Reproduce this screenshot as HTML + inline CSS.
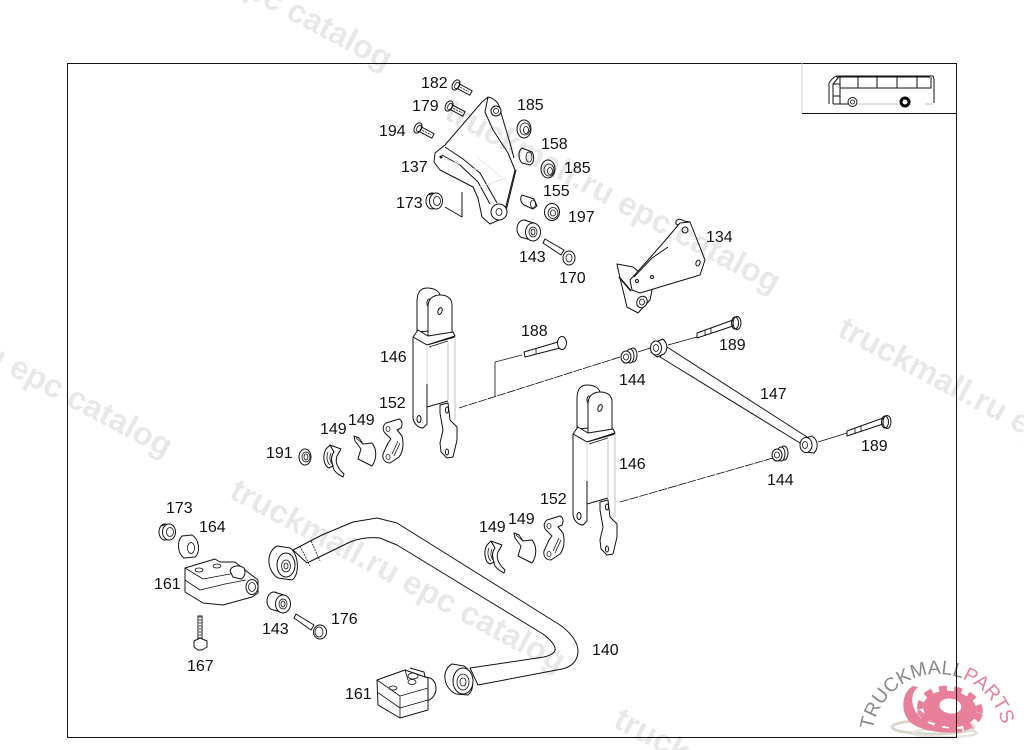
<!DOCTYPE html>
<html>
<head>
<meta charset="utf-8">
<style>
html,body{margin:0;padding:0;background:#fff;width:1024px;height:750px;overflow:hidden;}
svg{display:block;overflow:hidden;}
.l{font-family:"Liberation Sans",sans-serif;font-size:16px;fill:#111;}
.w{font-family:"Liberation Sans",sans-serif;font-size:32.5px;font-weight:bold;fill:#000;fill-opacity:.09;}
.p path,.p ellipse,.p circle,.p line,.p polyline,.p rect{stroke:#111;stroke-width:1;fill:#fff;stroke-linejoin:round;}
.p .n{fill:none;}
.p .g{stroke:#ccc;stroke-width:1.2;fill:none;}
.p .t{stroke-width:.8;fill:none;}
</style>
</head>
<body>
<svg width="1024" height="750" viewBox="0 0 1024 750" xmlns="http://www.w3.org/2000/svg">
<defs>
<clipPath id="page"><rect width="1024" height="750"/></clipPath>
<g class="p">
<g id="lever">
  <path d="M417 332V302C417 292 421 288 427 288C434 288 439 291 440 295L440 330Z"/>
  <ellipse cx="429" cy="303" rx="2" ry="4" class="n"/>
  <path d="M428 338V307C428 299 433 295 440 295C448 295 452 299 452 305V333Z"/>
  <ellipse cx="440" cy="311" rx="2" ry="3.5" transform="rotate(20 440 311)"/>
  <path d="M413 337L418 330L428 336L453 332L455 336L427 345Z"/>
  <path d="M413 337V417C413 423 418 428 423 428L427 424V345Z"/>
  <ellipse cx="419" cy="419" rx="2" ry="3.5" class="n"/>
  <path d="M427 345L455 337V404L427 407Z" style="stroke:none"/>
  <path d="M427 345L455 337" class="n"/>
  <path d="M429 347L448 341" class="t"/>
  <path d="M448 343V400" class="g"/>
  <path d="M455 337V420" class="g"/>
  <path d="M427 345V384" class="g" style="stroke:#ddd"/>
  <path d="M427 384V407" class="n"/>
  <path d="M427 407L448 401"/>
  <path d="M440 405L448 403L450 420L457 427V440L453 457L447 458L441 452L440 443L443 430L440 413Z"/>
  <ellipse cx="447" cy="410" rx="1.5" ry="3"/>
  <ellipse cx="447" cy="452" rx="1.5" ry="3"/>
</g>
<g id="clip1">
  <path d="M3 5C-1 12 1 22 6 24L10 22C8 16 8 12 11 8L7 1Z"/>
  <path d="M5 8C3 13 4 18 7 21M8 9C6 13 7 17 9 20" class="t"/>
  <path d="M7 1L18 5L14 12C12 18 14 22 18 27L21 30L20 33C14 30 10 26 10 22C8 16 8 12 11 8Z"/>
</g>
<g id="clip2">
  <path d="M0 0L5 2L9 8L18 7C23 13 23 23 18 30L4 23L7 13L1 5Z"/>
  <path d="M2 2L9 8" class="t"/>
</g>
<g id="clip3">
  <path d="M4 4L17 0C20 1 21 5 19 9L15 11L20 17C22 25 21 33 17 38L8 44C3 44 0 40 1 35L6 24L9 20L3 14C0 11 1 6 4 4Z"/>
  <path d="M10 35L16 22M12 37L18 24" class="t"/>
  <ellipse cx="6" cy="10" rx="2" ry="2.5" class="t"/>
  <ellipse cx="6" cy="38" rx="2" ry="2.5" class="t"/>
</g>
<g id="nut"><ellipse cx="-3" cy="0" rx="6" ry="8"/><ellipse cx="1" cy="0" rx="6.5" ry="8"/><ellipse cx="2" cy="0" rx="3.5" ry="4.5" class="t"/><path d="M-6 -6L-2 -8" class="t"/></g>
<g id="bush143"><ellipse cx="-5" cy="-2" rx="7" ry="9"/><path d="M-5 -11L5 -8V10L-5 7Z" style="stroke:none"/><path d="M-5 -11L5 -8M-5 7L5 10" class="n"/><ellipse cx="4" cy="1" rx="7.5" ry="9"/><ellipse cx="4" cy="1" rx="4" ry="5" class="t"/><ellipse cx="4" cy="1" rx="2" ry="3" class="t"/></g>
<g id="washer144"><ellipse cx="5" cy="-2" rx="4" ry="7"/><ellipse cx="2" cy="-1" rx="4" ry="7"/><ellipse cx="-2" cy="0" rx="5" ry="6"/><ellipse cx="-2" cy="0" rx="2.5" ry="3" class="t"/></g>
<g id="bolt"><rect x="2" y="-2.5" width="15" height="5"/><path d="M5 0H15" class="t" stroke-dasharray="2 1"/><ellipse cx="0" cy="0" rx="3.5" ry="5.5"/><ellipse cx="1" cy="0" rx="2" ry="3.5" class="t"/></g>
</g>
<g id="w"><text class="w" x="0" y="0">truckmall.ru epc catalog</text></g>
</defs>

<rect width="1024" height="750" fill="#fff"/>

<g clip-path="url(#page)">
<!-- Logo -->
<g>
  <ellipse cx="933" cy="727" rx="41" ry="7" fill="none" stroke="#d8d8d0" stroke-width="3"/>
  <ellipse cx="945" cy="733" rx="32" ry="4" fill="none" stroke="#e4e4dc" stroke-width="2.5"/>
  <path d="M913 686C902 692 900 710 909 721C919 731 942 734 962 732L962 729C944 730 925 725 917 714C911 705 910 694 918 687Z" fill="#e8809b"/>
  <path d="M917 714C926 724 945 726 962 725L962 722C945 723 929 719 918 708Z" fill="#ea8aa3"/>
  <path fill-rule="evenodd" fill="#e8809b" d="M923 709a27 18 0 1 0 54 0a27 18 0 1 0 -54 0ZM939 706a11 7.5 0 1 1 22 0a11 7.5 0 1 1 -22 0Z" transform="rotate(8 950 709)"/>
  <ellipse cx="950" cy="709" rx="30" ry="20" fill="none" stroke="#e8809b" stroke-width="6" stroke-dasharray="8 7" transform="rotate(8 950 709)"/>
</g>
<path id="arc" d="M872 740A66 66 0 0 1 1004 740L1020 745" fill="none"/>
<text font-family="Liberation Sans,sans-serif" font-size="19.5" fill="#8a8a8a"><textPath href="#arc" startOffset="10">TRUCKMALL<tspan fill="#ea7f9a">PARTS</tspan></textPath></text>

<!-- Frame -->
<rect x="67.5" y="63.5" width="889" height="674" fill="none" stroke="#111" stroke-width="1"/>
<path d="M802 63V113" stroke="#ccc" stroke-width="1" fill="none"/>
<path d="M802 113.5H956" stroke="#111" stroke-width="1" fill="none"/>

<!-- Bus -->
<g class="p">
  <path d="M837 76H933L934 79V103M838 77H930" class="n"/>
  <path d="M840 77V88H931V77M858 77V88M877 77V88M897 77V88M917 77V88" class="n"/>
  <path d="M829 104V83L832 79L836 76L838 78L833 84V104M833 104H848M833 84H840V104M833 96H840" class="n"/>
  <path d="M858 104H898M925 104H933" class="g"/>
  <circle cx="852.5" cy="102" r="4.5"/>
  <circle cx="852.5" cy="102" r="2" class="t"/>
  <circle cx="905" cy="102" r="4" style="fill:#fff;stroke:#000;stroke-width:3"/>
</g>

<!-- Connector lines -->
<g fill="none" stroke="#111" stroke-width=".8">
  <path d="M459 408L620 357" stroke-dasharray="9 1"/>
  <path d="M495 397V362L522 355"/>
  <path d="M620 502L773 458" stroke-dasharray="9 1"/>
  <path d="M638 352L650 348M668 345L697 337"/>
  <path d="M818 442L847 433"/>
</g>

<g class="p">
  <!-- 137 bracket -->
  <path d="M488 97L482 102L445 145L435 153L434 162L440 170L473 187L478 198L482 217L490 224L503 218L515 170L508 153L493 130L485 112Z"/>
  <path d="M488 97C494 98 500 103 501 113L510 143L514 158" class="n"/>
  <path d="M445 147L463 159L480 173L497 203M442 155L460 165L478 182L490 204M516 170L505 215" class="n"/>
  <path d="M477 157L502 178M444 159L478 170M480 187L506 178" class="g" style="stroke:#ddd;stroke-width:.8"/>
  <circle cx="496" cy="111" r="5"/>
  <circle cx="496" cy="111" r="2.5" class="t"/>
  <ellipse cx="499" cy="212" rx="8" ry="8"/>
  <ellipse cx="499" cy="212" rx="3" ry="3.5" class="t"/>
  <circle cx="441" cy="157" r="1" style="fill:#111"/>
  <path d="M445 207L462 217V192" class="n"/>
  <use href="#nut" x="435" y="201"/>
  <!-- bolts top -->
  <use href="#bolt" transform="translate(456,85) rotate(28)"/>
  <use href="#bolt" transform="translate(449,106) rotate(28)"/>
  <use href="#bolt" transform="translate(418,128) rotate(28)"/>
  <!-- right stack -->
  <ellipse cx="524" cy="129" rx="7" ry="9"/><ellipse cx="525" cy="129" rx="5" ry="6" class="t"/><ellipse cx="526" cy="130" rx="2.5" ry="3.5" class="t"/>
  <path d="M522 148L532 152C535 157 534 163 530 165L522 163C518 159 518 151 522 148Z"/><ellipse cx="529" cy="157" rx="3" ry="5" class="t"/>
  <ellipse cx="548" cy="169" rx="7" ry="9"/><ellipse cx="549" cy="170" rx="5" ry="6" class="t"/><ellipse cx="550" cy="171" rx="2.5" ry="3.5" class="t"/>
  <path d="M522 195L534 199L537 206L533 209L524 205C520 202 520 198 522 195Z"/><ellipse cx="533" cy="204" rx="2.5" ry="4" class="t"/>
  <ellipse cx="552" cy="212" rx="7.5" ry="8.5"/><ellipse cx="553" cy="213" rx="5" ry="5.5" class="t"/><ellipse cx="553" cy="213" rx="2.5" ry="3" class="t"/>
  <use href="#bush143" x="529" y="231"/>
  <path d="M545 239L564 250L561 255L543 243Z"/>
  <ellipse cx="569" cy="258" rx="6" ry="7"/><ellipse cx="569" cy="258" rx="3" ry="4" class="t"/>

  <!-- 134 bracket -->
  <path d="M617 264L633 267L645 277L652 290L650 300L638 313L627 307L620 278Z"/>
  <ellipse cx="642" cy="302" rx="5" ry="6" transform="rotate(30 642 302)"/>
  <ellipse cx="642" cy="302" rx="2.5" ry="3" class="t"/>
  <path d="M619 277L631 291" class="n" style="stroke-width:1.6"/>
  <path d="M676 224C675 219 680 218 684 221L690 222L680 226Z"/>
  <path d="M630 280L648 260L663 243L680 223L690 222L705 260L700 275L640 293L632 290Z"/>
  <path d="M634 277L652 258L668 247" class="n"/>
  <circle cx="685" cy="230" r="3"/>
  <ellipse cx="698" cy="263" rx="2" ry="3" transform="rotate(20 698 263)"/>
  <circle cx="637" cy="281" r="1.5"/>
  <circle cx="652" cy="277" r="1.5"/>

  <!-- Bolt 188 -->
  <path d="M524 352L558 342L560 348L525 357Z"/>
  <ellipse cx="562" cy="343" rx="4.5" ry="6.5"/>
  <path d="M536 349V354" class="t"/>

  <!-- Levers -->
  <use href="#lever"/>
  <use href="#lever" x="160" y="97"/>

  <!-- Clips left -->
  <ellipse cx="305" cy="457" rx="6" ry="8"/>
  <ellipse cx="306" cy="457" rx="4" ry="5" class="t"/>
  <ellipse cx="306" cy="457" rx="2" ry="3" class="t"/>
  <use href="#clip1" x="323" y="444"/>
  <use href="#clip2" x="354" y="436"/>
  <use href="#clip3" x="382" y="419"/>
  <!-- Clips right -->
  <use href="#clip1" x="484" y="540"/>
  <use href="#clip2" x="514" y="533"/>
  <use href="#clip3" x="543" y="516"/>

  <!-- 144 + 147 -->
  <use href="#washer144" x="628" y="357"/>
  <path d="M667 347L807 437L800 443L660 357Z"/>
  <path d="M656 342L663 339C668 344 668 350 664 354L657 357L651 352Z"/>
  <ellipse cx="656" cy="348" rx="5.5" ry="7"/>
  <ellipse cx="656" cy="348" rx="2.5" ry="3.5" class="t"/>
  <use href="#washer144" x="779" y="455"/>
  <path d="M806 438L812 436C818 440 819 448 814 453L806 452Z"/>
  <ellipse cx="806" cy="445" rx="6" ry="7.5"/>
  <ellipse cx="805" cy="445" rx="2.5" ry="3.5" class="t"/>

  <!-- Bolts 189 -->
  <path d="M697 333L733 320V326L697 338Z"/>
  <path d="M705 330V336M711 328V334" class="t"/>
  <ellipse cx="737" cy="323" rx="4" ry="6.5"/>
  <ellipse cx="735" cy="323" rx="3.5" ry="6" class="n"/>
  <path d="M847 431L883 418V424L847 436Z"/>
  <path d="M855 428V434M861 426V432" class="t"/>
  <ellipse cx="887" cy="422" rx="4" ry="6.5"/>
  <ellipse cx="885" cy="422" rx="3.5" ry="6" class="n"/>

  <!-- Stabilizer bar -->
  <path d="M293 550L322 535L353 522L377 518L397 523L560 625C570 632 578 642 578 651C578 660 572 667 562 669L478 685L470 668L544 657C552 655 556 652 555 648C554 643 548 638 543 634L397 545L380 538C370 537 360 538 350 542L307 563Z"/>
  <path d="M300 546L310 566M311 541L320 561" class="t" stroke-dasharray="2 1"/>
  <!-- left bush -->
  <path d="M277 546L290 548C299 554 300 575 292 580L278 578C266 570 266 552 277 546Z"/>
  <ellipse cx="286" cy="565" rx="9" ry="12"/>
  <ellipse cx="286" cy="566" rx="4.5" ry="6" class="t"/>
  <ellipse cx="286" cy="566" rx="2" ry="3" class="t"/>
  <!-- right bush -->
  <path d="M452 664L464 666C473 672 476 688 468 695L456 694C443 688 441 670 452 664Z"/>
  <ellipse cx="463" cy="681" rx="10" ry="13"/>
  <ellipse cx="463" cy="682" rx="6" ry="8" class="t"/>
  <ellipse cx="463" cy="682" rx="3" ry="4" class="t"/>

  <!-- 173, 164 left -->
  <use href="#nut" x="168" y="532"/>
  <path d="M182 536L192 535C199 539 201 552 195 557L184 558C177 553 177 541 182 536Z"/>
  <ellipse cx="191" cy="548" rx="3.5" ry="5.5" class="t"/>

  <!-- 161 left -->
  <path d="M185 568L215 559L220 562L235 562L245 570L258 580V593L252 597L223 605L203 603L185 592Z"/>
  <path d="M185 580L200 590L225 584L246 580M185 568L203 579L230 574L240 572" class="t"/>
  <ellipse cx="199" cy="570" rx="4" ry="2" class="t"/>
  <ellipse cx="217" cy="566" rx="4" ry="2" class="t"/>
  <path d="M230 571C231 566 238 564 244 568C246 572 245 577 241 579L233 577Z"/>
  <ellipse cx="252" cy="587" rx="6" ry="7.5"/>
  <ellipse cx="252" cy="587" rx="3.5" ry="4.5" class="t"/>
  <!-- 143 -->
  <use href="#bush143" x="279" y="603"/>
  <!-- 176 -->
  <path d="M296 614L314 625L311 630L294 618Z"/>
  <ellipse cx="320" cy="632" rx="6.5" ry="7"/>
  <ellipse cx="319" cy="632" rx="4" ry="5" class="t"/>
  <!-- 167 -->
  <path d="M198 616H202V640H198Z"/>
  <path d="M200 616V640" class="t" stroke-dasharray="2 1"/>
  <path d="M194 641L200 638L207 641L207 647L202 650H198L194 647Z"/>

  <!-- 161 right -->
  <path d="M410 668L424 672L425 677C432 677 436 682 436 688C436 695 432 699 427 701L420 705C425 695 428 685 420 677" />
  <path d="M377 680L405 670L428 678V710L400 718L378 705Z"/>
  <path d="M377 680L400 696L428 688M377 692L400 708V718M400 696V708L428 700" class="t"/>
  <ellipse cx="393" cy="688" rx="4" ry="2" class="t"/>
  <ellipse cx="412" cy="682" rx="4" ry="2.5" class="t"/>
  <ellipse cx="413" cy="676" rx="5" ry="3" class="t"/>
  <path d="M405 670L408 680" class="t"/>
</g>

<!-- Labels -->
<g class="l">
<text x="421" y="88">182</text>
<text x="412" y="111">179</text>
<text x="379" y="136">194</text>
<text x="401" y="172">137</text>
<text x="396" y="208">173</text>
<text x="517" y="110">185</text>
<text x="541" y="149">158</text>
<text x="564" y="173">185</text>
<text x="543" y="196">155</text>
<text x="568" y="222">197</text>
<text x="519" y="262">143</text>
<text x="559" y="283">170</text>
<text x="706" y="242">134</text>
<text x="521" y="336">188</text>
<text x="719" y="350">189</text>
<text x="380" y="362">146</text>
<text x="619" y="385">144</text>
<text x="760" y="399">147</text>
<text x="379" y="408">152</text>
<text x="320" y="434">149</text>
<text x="348" y="425">149</text>
<text x="266" y="458">191</text>
<text x="861" y="451">189</text>
<text x="767" y="485">144</text>
<text x="619" y="469">146</text>
<text x="540" y="504">152</text>
<text x="479" y="532">149</text>
<text x="508" y="524">149</text>
<text x="166" y="513">173</text>
<text x="199" y="532">164</text>
<text x="154" y="589">161</text>
<text x="262" y="634">143</text>
<text x="331" y="624">176</text>
<text x="187" y="671">167</text>
<text x="592" y="655">140</text>
<text x="345" y="699">161</text>
</g>

<!-- Watermarks -->
<use href="#w" transform="translate(228,497) rotate(28)"/>
<use href="#w" transform="translate(443,118) rotate(28)"/>
<use href="#w" transform="translate(55,-105) rotate(28)"/>
<use href="#w" transform="translate(-165,282) rotate(28)"/>
<use href="#w" transform="translate(836,335) rotate(28)"/>
<use href="#w" transform="translate(612,726) rotate(28)"/>
</g>
</svg>
</body>
</html>
